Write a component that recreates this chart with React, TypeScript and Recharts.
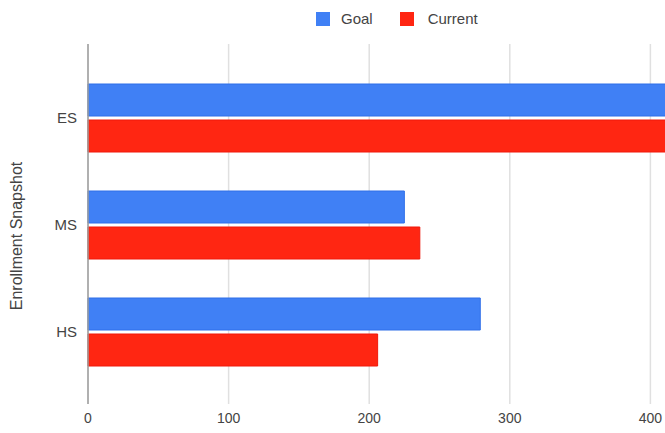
import {
  BarChart,
  Bar,
  XAxis,
  YAxis,
  CartesianGrid,
} from "recharts";

const categories = ["ES", "MS", "HS"];
const goalValues = [450, 225, 279];
const currentValues = [450, 236, 206];
const xTicks = [0, 100, 200, 300, 400];

const data = categories.map((name, i) => ({
  name,
  goal: goalValues[i],
  current: currentValues[i],
}));

const FONT = "'Liberation Sans', Arial, sans-serif";
const BLUE = "#4080f5";
const RED = "#ff2612";

function AxisTitle({ viewBox }: any) {
  const cy = viewBox.y + viewBox.height / 2 + 12;
  return (
    <text
      x={18}
      y={cy}
      transform={`rotate(-90, 18, ${cy})`}
      textAnchor="middle"
      dominantBaseline="middle"
      fontSize={16}
      fill="#444"
      fontFamily={FONT}
    >
      Enrollment Snapshot
    </text>
  );
}

export default function App() {
  return (
    <div
      style={{
        position: "fixed",
        left: 0,
        top: 0,
        width: 665,
        height: 433,
        overflow: "hidden",
        background: "#fff",
        fontFamily: FONT,
      }}
    >
      <BarChart
        width={801}
        height={433}
        data={data}
        layout="vertical"
        margin={{ top: 44, right: 10, bottom: 0, left: 0 }}
        barCategoryGap={20}
        barGap={4}
      >
        <CartesianGrid horizontal={false} stroke="#e0e0e0" strokeWidth={1.5} />
        <XAxis
          type="number"
          domain={[0, 500]}
          ticks={xTicks}
          height={29}
          axisLine={false}
          tickLine={false}
          tickMargin={3}
          tick={{ fontSize: 14, fill: "#444", fontFamily: FONT }}
        />
        <YAxis
          type="category"
          dataKey="name"
          width={88}
          padding={{ top: 20, bottom: 19 }}
          axisLine={{ stroke: "#9e9e9e", strokeWidth: 1.5 }}
          tickLine={false}
          tickMargin={5}
          tick={{ fontSize: 15, fill: "#444", fontFamily: FONT }}
          label={<AxisTitle />}
        />
        <Bar
          dataKey="goal"
          fill={BLUE}
          stroke="#2f6fe8"
          strokeWidth={1}
          isAnimationActive={false}
        />
        <Bar
          dataKey="current"
          fill={RED}
          stroke="#f0180a"
          strokeWidth={1}
          isAnimationActive={false}
        />
      </BarChart>
      <div
        style={{
          position: "absolute",
          top: 10,
          left: 316,
          display: "flex",
          alignItems: "center",
          fontSize: 15,
          color: "#444",
          lineHeight: "18px",
        }}
      >
        <span style={{ width: 14, height: 14, background: BLUE, display: "inline-block" }} />
        <span style={{ marginLeft: 11, marginRight: 27 }}>Goal</span>
        <span style={{ width: 14, height: 14, background: RED, display: "inline-block" }} />
        <span style={{ marginLeft: 14 }}>Current</span>
      </div>
    </div>
  );
}
